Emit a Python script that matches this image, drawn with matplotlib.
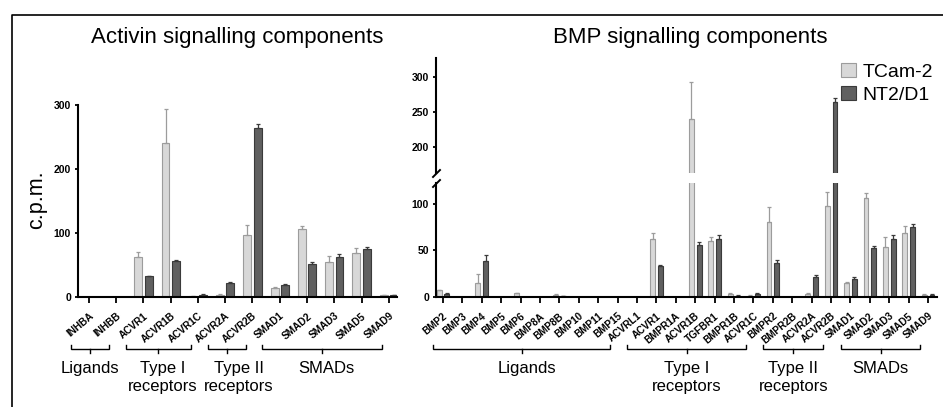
import numpy as np
import matplotlib
matplotlib.use('Agg')
import matplotlib.pyplot as plt
from matplotlib.transforms import blended_transform_factory, offset_copy
from matplotlib.lines import Line2D

plt.rcParams['font.family'] = ['Liberation Sans', 'DejaVu Sans']

# ---- Activin panel data (c.p.m., mean and upper SD) ----
activin_genes = ['INHBA', 'INHBB', 'ACVR1', 'ACVR1B', 'ACVR1C', 'ACVR2A', 'ACVR2B',
                 'SMAD1', 'SMAD2', 'SMAD3', 'SMAD5', 'SMAD9']
activin_tcam = [0, 0, 62, 240, 1.5, 3.5, 97, 14.5, 106, 54, 68, 2.5]
activin_tcam_err = [0, 0, 8, 53, 0.5, 0.5, 15, 1.5, 5, 10, 8, 0.5]
activin_nt2 = [0, 0, 32.5, 56, 3.5, 21.5, 264, 19.5, 52, 62, 75, 2.5]
activin_nt2_err = [0, 0, 1, 2, 0.5, 2, 6, 1, 3, 4.5, 3.5, 0.5]
activin_groups = [('Ligands', 0, 1), ('Type I\nreceptors', 2, 4),
                  ('Type II\nreceptors', 5, 6), ('SMADs', 7, 11)]

# ---- BMP panel data ----
bmp_genes = ['BMP2', 'BMP3', 'BMP4', 'BMP5', 'BMP6', 'BMP8A', 'BMP8B', 'BMP10', 'BMP11', 'BMP15',
             'ACVRL1', 'ACVR1', 'BMPR1A', 'ACVR1B', 'TGFBR1', 'BMPR1B', 'ACVR1C',
             'BMPR2', 'BMPR2B', 'ACVR2A', 'ACVR2B',
             'SMAD1', 'SMAD2', 'SMAD3', 'SMAD5', 'SMAD9']
bmp_tcam = [7, 0, 15, 0, 4, 0.3, 2.5, 0, 0, 0,
            0, 62, 0, 240, 60, 3.5, 1.5,
            80, 0, 3.5, 97,
            15, 106, 54, 68, 2.5]
bmp_tcam_err = [1, 0, 10, 0, 0.5, 0, 0.5, 0, 0, 0,
                0, 7, 0, 53, 4, 0.5, 0.5,
                16, 0, 0.5, 15,
                1.5, 5, 10, 8, 0.5]
bmp_nt2 = [3.5, 0, 38.5, 0, 0.5, 0, 1, 0, 0, 0,
           0, 33, 0, 56, 62.5, 1.5, 3.5,
           36, 0, 21, 264,
           19.5, 52, 62, 75, 2.5]
bmp_nt2_err = [0.5, 0, 6, 0, 0, 0, 0.3, 0, 0, 0,
               0, 1.5, 0, 2.5, 3.5, 0.3, 0.5,
               3.5, 0, 3, 6,
               2, 3, 4.5, 3.5, 0.5]
bmp_groups = [('Ligands', 0, 9), ('Type I\nreceptors', 10, 16),
              ('Type II\nreceptors', 17, 20), ('SMADs', 21, 25)]

series_names = ['TCam-2', 'NT2/D1']
light_fc, light_ec = '#d8d8d8', '#9c9c9c'
dark_fc, dark_ec = '#606060', '#3a3a3a'

W, H = 943, 407
fig = plt.figure(figsize=(W / 100, H / 100), dpi=100)


def px_rect(x0, y0, x1, y1):
    # pixel box (top-left origin) -> figure fraction rect
    return [x0 / W, 1 - y1 / H, (x1 - x0) / W, (y1 - y0) / H]


def style_axis(ax, bottom=True):
    for s in ['top', 'right']:
        ax.spines[s].set_visible(False)
    ax.spines['left'].set_linewidth(1.5)
    ax.spines['bottom'].set_linewidth(1.5)
    ax.tick_params(axis='y', length=2.5, width=1.3, pad=2.5, labelsize=7.5)
    for lab in ax.get_yticklabels():
        lab.set_fontweight('bold')
    if not bottom:
        ax.spines['bottom'].set_visible(False)
        ax.tick_params(axis='x', bottom=False, labelbottom=False)


def draw_bars(ax, a, a_err, b, b_err, off, width):
    x = np.arange(len(a))
    bars_a = ax.bar(x - off, a, width, color=light_fc, edgecolor=light_ec, linewidth=0.8, label=series_names[0])
    bars_b = ax.bar(x + off, b, width, color=dark_fc, edgecolor=dark_ec, linewidth=0.8, label=series_names[1])
    a, a_err, b, b_err = map(np.asarray, (a, a_err, b, b_err))
    m = a_err > 0
    ax.errorbar(x[m] - off, a[m], yerr=[np.zeros(m.sum()), a_err[m]], fmt='none',
                ecolor=light_ec, elinewidth=0.9, capsize=1.3, capthick=0.9)
    m = b_err > 0
    ax.errorbar(x[m] + off, b[m], yerr=[np.zeros(m.sum()), b_err[m]], fmt='none',
                ecolor=dark_ec, elinewidth=0.9, capsize=1.3, capthick=0.9)
    return bars_a, bars_b


def set_xlabels(ax, genes):
    ax.set_xticks(np.arange(len(genes)))
    ax.set_xticklabels(genes, rotation=40, ha='right', va='top', rotation_mode='anchor',
                       fontsize=7.2, fontweight='bold')
    ax.tick_params(axis='x', length=4, width=1.3, pad=6)


def draw_groups(ax, groups, s0, s1, nudge=None):
    tr = blended_transform_factory(ax.transData, fig.transFigure)
    yb = 1 - 349 / H
    h = 4 / H
    nudge = nudge or {}
    for name, i0, i1 in groups:
        x0, x1 = i0 + s0, i1 + s1
        xm = (x0 + x1) / 2
        ax.plot([x0, x0, x1, x1], [yb + h, yb, yb, yb + h], color='black', lw=1.0,
                transform=tr, clip_on=False, solid_joinstyle='miter')
        ax.plot([xm, xm], [yb, yb - h], color='black', lw=1.0, transform=tr, clip_on=False)
        ttr = offset_copy(tr, fig=fig, x=nudge.get(name, 0), y=0, units='dots')
        ax.text(xm, 1 - 361 / H, name, transform=ttr, ha='center', va='top',
                fontsize=12, linespacing=1.25, multialignment='center')


# ---- left panel ----
ax1 = fig.add_axes(px_rect(78, 105, 397, 297))
draw_bars(ax1, activin_tcam, activin_tcam_err, activin_nt2, activin_nt2_err, 0.19, 0.29)
ax1.set_ylim(0, 300)
ax1.set_yticks([0, 100, 200, 300])
ax1.set_xlim(-0.4, len(activin_genes) - 1 + 0.3)
style_axis(ax1)
set_xlabels(ax1, activin_genes)
draw_groups(ax1, activin_groups, -0.65, -0.25,
            nudge={'Type I\nreceptors': 4, 'Type II\nreceptors': 12, 'SMADs': 4})
fig.text(37 / W, 1 - 200 / H, 'c.p.m.', rotation=90, ha='center', va='center', fontsize=15.5)

# ---- right panel (broken y axis) ----
ax_lo = fig.add_axes(px_rect(436, 183, 937, 297))
ax_hi = fig.add_axes(px_rect(436, 58, 937, 173), sharex=ax_lo)
handles = draw_bars(ax_lo, bmp_tcam, bmp_tcam_err, bmp_nt2, bmp_nt2_err, 0.2, 0.25)
draw_bars(ax_hi, bmp_tcam, bmp_tcam_err, bmp_nt2, bmp_nt2_err, 0.2, 0.25)
ax_lo.set_ylim(0, 122)
ax_lo.set_yticks([0, 50, 100])
ax_hi.set_ylim(163, 327)
ax_hi.set_yticks([200, 250, 300])
ax_lo.set_xlim(-0.36, len(bmp_genes) - 1 + 0.46)
style_axis(ax_lo)
style_axis(ax_hi, bottom=False)
set_xlabels(ax_lo, bmp_genes)
draw_groups(ax_lo, bmp_groups, -0.5, -0.4, nudge={'Ligands': 5})

# break marks on the y axis
brk = dict(marker=[(-1, -1), (1, 1)], markersize=6, linestyle='none', color='black',
           mec='black', mew=1.4, clip_on=False)
ax_lo.plot([0], [1], transform=ax_lo.transAxes, **brk)
ax_hi.plot([0], [0], transform=ax_hi.transAxes, **brk)

# legend
fig.legend(handles=list(handles), labels=series_names, loc='upper left',
           bbox_to_anchor=(841 / W, 1 - 63 / H), frameon=False, fontsize=14,
           handlelength=0.75, handleheight=0.75, handletextpad=0.35, labelspacing=0.25,
           borderpad=0, borderaxespad=0)

# titles
fig.text(237 / W, 1 - 43 / H, 'Activin signalling components', ha='center', va='baseline', fontsize=16)
fig.text(690 / W, 1 - 43 / H, 'BMP signalling components', ha='center', va='baseline', fontsize=16)

# outer frame (left and top edges visible)
fx, fy = 12 / W, 1 - 15 / H
fig.add_artist(Line2D([fx, fx, 1.0], [0.0, fy, fy], transform=fig.transFigure,
                      color='black', lw=1.2))

fig.savefig('out.png', dpi=100)
